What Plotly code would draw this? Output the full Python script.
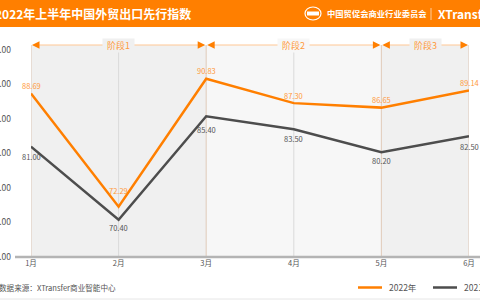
import plotly.graph_objects as go

months = ["1月", "2月", "3月", "4月", "5月", "6月"]
idx_2022 = [88.69, 72.29, 90.83, 87.30, 86.65, 89.14]
idx_2021 = [81.00, 70.40, 85.40, 83.50, 80.20, 82.50]
series_names = ["2022年", "2021年"]
y_ticks = [65, 70, 75, 80, 85, 90, 95]
stages = [("阶段1", 0, 2), ("阶段2", 2, 4), ("阶段3", 4, 5)]
title = "2022年上半年中国外贸出口先行指数"
org = "中国贸促会商业行业委员会"
brand = "XTransfer"
source = "数据来源：XTransfer商业智能中心"

# style
ORANGE = "#FF7F00"
DARK = "#4D4D4D"
FONT = "Noto Sans CJK SC, Noto Sans, sans-serif"
W, H = 480, 300
L, R, T, B = 31, 11, 45, 43
PW, PH = W - L - R, H - T - B
label_shift_22 = [8, 16, 8, 8, 8, 8]
label_shift_21 = [-10, -8, -13, -9, -8, -10]

def xp(px):
    return (px - L) / PW

def yp(py):
    return (H - B - py) / PH

x = list(range(len(months)))
fig = go.Figure()
fig.add_trace(go.Scatter(x=x, y=idx_2022, mode="lines", line=dict(color=ORANGE, width=2.5),
                         cliponaxis=False, showlegend=False, name=series_names[0]))
fig.add_trace(go.Scatter(x=x, y=idx_2021, mode="lines", line=dict(color=DARK, width=2.5),
                         cliponaxis=False, showlegend=False, name=series_names[1]))

shapes = []
annos = []
# header band
shapes.append(dict(type="rect", xref="paper", yref="paper", x0=xp(-2), x1=xp(W + 2),
                   y0=yp(27), y1=yp(-2), fillcolor=ORANGE, line=dict(width=0), layer="above"))
# stage shading
fills = ["#F0F0F0", "#F7F7F7", "#F0F0F0"]
for (name, a, b), fc in zip(stages, fills):
    shapes.append(dict(type="rect", xref="x", yref="paper", x0=a, x1=b, y0=0, y1=1,
                       fillcolor=fc, line=dict(width=0), layer="below"))
# month grid lines
for i in x:
    shapes.append(dict(type="line", xref="x", yref="paper", x0=i, x1=i, y0=0, y1=1,
                       line=dict(color="#DADADA", width=1), layer="below"))
# stage boundaries (peach)
bounds = sorted(set([s[1] for s in stages] + [s[2] for s in stages]))
for bnd in bounds:
    shapes.append(dict(type="line", xref="x", yref="paper", x0=bnd, x1=bnd, y0=0, y1=1,
                       line=dict(color="rgba(255,160,80,0.22)", width=1), layer="below"))
# stage arrow lines + labels
for (name, a, b), fc in zip(stages, fills):
    shapes.append(dict(type="line", xref="x", yref="paper", x0=a + 0.03, x1=b - 0.03, y0=1, y1=1,
                       line=dict(color="#FFC794", width=1)))
    annos.append(dict(x=a, y=1, xref="x", yref="paper", text="", showarrow=True,
                      ax=7, ay=0, arrowhead=2, arrowsize=1, arrowwidth=1.5, arrowcolor=ORANGE,
                      standoff=1))
    annos.append(dict(x=b, y=1, xref="x", yref="paper", text="", showarrow=True,
                      ax=-7, ay=0, arrowhead=2, arrowsize=1, arrowwidth=1.5, arrowcolor=ORANGE,
                      standoff=1))
    annos.append(dict(x=(a + b) / 2, y=1, xref="x", yref="paper", text="  " + name + "  ",
                      showarrow=False, font=dict(family=FONT, size=9, color="#FF9A3C"),
                      bgcolor=fc, borderpad=0, yanchor="middle"))
# data labels
for i, (v, s) in enumerate(zip(idx_2022, label_shift_22)):
    annos.append(dict(x=i, y=v, xref="x", yref="y", text=f"{v:.2f}", showarrow=False,
                      yshift=s, font=dict(family=FONT, size=7.5, color="#FF9A3C")))
for i, (v, s) in enumerate(zip(idx_2021, label_shift_21)):
    annos.append(dict(x=i, y=v, xref="x", yref="y", text=f"{v:.2f}", showarrow=False,
                      yshift=s, font=dict(family=FONT, size=7.5, color="#555555")))
# bottom axis line
shapes.append(dict(type="line", xref="paper", yref="paper", x0=xp(15), x1=xp(W + 2), y0=0, y1=0,
                   line=dict(color="#B4B4B4", width=2.5), layer="above"))
# footer separator
shapes.append(dict(type="line", xref="paper", yref="paper", x0=xp(-2), x1=xp(W + 2),
                   y0=yp(299), y1=yp(299), line=dict(color="#E6E6E6", width=1)))
# header texts
annos.append(dict(x=xp(193), y=yp(13.5), xref="paper", yref="paper", text=f"<b>{title}</b>",
                  showarrow=False, xanchor="right", yanchor="middle",
                  font=dict(family=FONT, size=12, color="white")))
shapes.append(dict(type="circle", xref="paper", yref="paper", x0=xp(305), x1=xp(321),
                   y0=yp(20), y1=yp(7), line=dict(color="white", width=1.2)))
shapes.append(dict(type="rect", xref="paper", yref="paper", x0=xp(307), x1=xp(319),
                   y0=yp(15.5), y1=yp(11.5), fillcolor="white", line=dict(width=0)))
annos.append(dict(x=xp(325), y=yp(13.5), xref="paper", yref="paper", text=f"<b>{org}</b>",
                  showarrow=False, xanchor="left", yanchor="middle",
                  font=dict(family=FONT, size=8.3, color="white")))
shapes.append(dict(type="line", xref="paper", yref="paper", x0=xp(431), x1=xp(431),
                   y0=yp(20), y1=yp(8), line=dict(color="rgba(255,255,255,0.6)", width=1)))
annos.append(dict(x=xp(436), y=yp(13.5), xref="paper", yref="paper", text=f"<b>{brand}</b>",
                  showarrow=False, xanchor="left", yanchor="middle",
                  font=dict(family=FONT, size=12, color="white")))
# footer source
annos.append(dict(x=xp(118), y=yp(287), xref="paper", yref="paper", text=source,
                  showarrow=False, xanchor="right", yanchor="middle",
                  font=dict(family=FONT, size=7.6, color="#555555")))
# legend
for (nm, col, x0) in [(series_names[0], ORANGE, 358), (series_names[1], DARK, 433)]:
    shapes.append(dict(type="line", xref="paper", yref="paper", x0=xp(x0), x1=xp(x0 + 24),
                       y0=yp(287.5), y1=yp(287.5), line=dict(color=col, width=2.5)))
    annos.append(dict(x=xp(x0 + 29), y=yp(287), xref="paper", yref="paper", text=nm,
                      showarrow=False, xanchor="left", yanchor="middle",
                      font=dict(family=FONT, size=8.5, color="#555555")))

fig.update_layout(
    width=W, height=H,
    margin=dict(l=L, r=R, t=T, b=B, autoexpand=False),
    paper_bgcolor="white", plot_bgcolor="white",
    shapes=shapes, annotations=annos,
    font=dict(family=FONT),
    xaxis=dict(range=[0, 5], tickvals=x, ticktext=months, showgrid=False, zeroline=False,
               showline=False, ticks="", tickfont=dict(size=7.5, color="#555555"),
               fixedrange=True, automargin=False),
    yaxis=dict(range=[65, 65 + PH / 6.9], tickvals=y_ticks, ticktext=[f"{t:.2f}" for t in y_ticks],
               showgrid=False, zeroline=False, showline=False, ticks="",
               ticklabelstandoff=19, tickfont=dict(size=8.5, color="#555555"),
               fixedrange=True, automargin=False),
)
fig.write_html("out.html", config={"displayModeBar": False})
